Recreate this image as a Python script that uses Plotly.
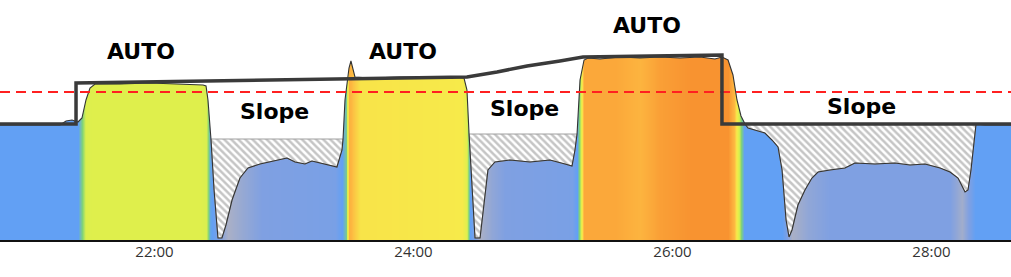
import plotly.graph_objects as go

# ---- data ----
# signal (time in minutes, value)
sig_t = [20.807, 21.270, 21.317, 21.363, 21.409, 21.440, 21.471, 21.502, 21.541, 21.734,
         21.965, 22.197, 22.375, 22.398, 22.413, 22.436, 22.460, 22.490, 22.521, 22.552,
         22.599, 22.660, 22.722, 22.815, 22.931, 23.023, 23.085, 23.162, 23.216, 23.278,
         23.355, 23.409, 23.448, 23.456, 23.471, 23.487, 23.502, 23.517, 23.533, 23.548,
         23.664, 23.896, 24.127, 24.320, 24.390, 24.413, 24.429, 24.452, 24.475, 24.514,
         24.545, 24.575, 24.629, 24.745, 24.900, 25.054, 25.170, 25.224, 25.247, 25.263,
         25.286, 25.317, 25.348, 25.440, 25.595, 25.749, 25.904, 26.058, 26.212, 26.328,
         26.382, 26.429, 26.467, 26.498, 26.529, 26.560, 26.583, 26.637, 26.714, 26.768,
         26.815, 26.846, 26.877, 26.900, 26.923, 26.969, 27.023, 27.077, 27.124, 27.216,
         27.332, 27.409, 27.564, 27.718, 27.834, 27.950, 28.066, 28.143, 28.205, 28.259,
         28.282, 28.305, 28.328, 28.344, 28.413, 28.614]
sig_v = [115, 115, 119, 120, 118, 122, 140, 152, 156, 156,
         157, 156, 155, 154, 140, 101, 50, 2, 2, 15,
         40, 62, 72, 76, 79, 82, 78, 76, 79, 77,
         74, 73, 90, 101, 140, 160, 172, 179, 172, 163,
         162, 163, 163, 163, 162, 150, 106, 50, 2, 2,
         40, 70, 78, 80, 78, 80, 76, 74, 90, 106,
         160, 180, 182, 181, 183, 182, 183, 182, 183, 181,
         183, 180, 165, 140, 124, 116, 112, 110, 107, 100,
         93, 70, 20, 3, 10, 35, 50, 62, 68, 70,
         72, 77, 76, 77, 75, 76, 72, 68, 62, 48,
         50, 70, 100, 116, 115, 115]

# target step line
target_t = [20.807, 21.394, 21.394, 22.429, 23.433, 24.413, 24.645, 24.877, 25.131,
            25.309, 25.826, 26.382, 26.382, 28.614]
target_v = [116, 116, 157, 159, 161, 163, 168, 174, 179, 183, 184, 185, 116, 116]

# limit line
limit_v = 148

# colour intensity along time
int_t = [20.807, 21.409, 21.440, 21.471, 21.517, 22.351, 22.398, 22.429, 22.490, 22.568,
         22.660, 22.830, 23.394, 23.448, 23.479, 23.502, 23.533, 23.587, 24.375, 24.405,
         24.436, 24.514, 24.606, 24.707, 25.224, 25.263, 25.286, 25.317, 25.557, 25.749,
         25.904, 26.135, 26.429, 26.475, 26.506, 26.529, 26.552, 26.846, 26.923, 27.047,
         27.216, 28.143, 28.236, 28.298, 28.336, 28.614]
int_v = [0.2, 0.2, 0.33, 0.48, 0.5, 0.5, 0.47, 0.22, 0.12, 0.0,
         0.04, 0.1, 0.12, 0.2, 0.3, 0.8, 0.72, 0.62, 0.6, 0.52,
         0.2, 0.0, 0.06, 0.1, 0.12, 0.2, 0.4, 0.85, 0.85, 0.78,
         0.9, 0.97, 0.97, 0.75, 0.5, 0.33, 0.2, 0.2, 0.0, 0.06,
         0.1, 0.1, 0.02, 0.12, 0.2, 0.2]

# slope segments: start, end, reference level
slope_start = [22.436, 24.429, 26.560]
slope_end = [23.456, 25.263, 28.344]
slope_level = [101, 106, 116]

# mode labels
label_text = ["AUTO", "Slope", "AUTO", "Slope", "AUTO", "Slope"]
label_t = [21.896, 22.923, 23.919, 24.861, 25.803, 27.463]
label_v = [189, 129, 189, 132, 215, 134]

tick_vals = [22, 24, 26, 28]
tick_text = ["22:00", "24:00", "26:00", "28:00"]

# ---- figure ----
colorscale = [
    [0.0, "#aab0c6"], [0.1, "#7fa0e2"], [0.2, "#62a0f4"], [0.33, "#7fd27a"],
    [0.45, "#d6ee50"], [0.5, "#dfef4c"], [0.6, "#f7ea4a"], [0.75, "#fdb941"],
    [0.85, "#fba83a"], [1.0, "#f78e2e"],
]

fig = go.Figure()
fig.add_trace(go.Heatmap(x=int_t, y=[0, 240], z=[int_v, int_v], colorscale=colorscale,
                         zmin=0, zmax=1, zsmooth="best", showscale=False, hoverinfo="skip"))

# white mask above signal
t0, tN = sig_t[0], sig_t[-1]
mask_x = [t0 - 0.05] + sig_t + [tN + 0.05, tN + 0.05, t0 - 0.05]
mask_y = [sig_v[0]] + sig_v + [sig_v[-1], 400, 400]
fig.add_trace(go.Scatter(x=mask_x, y=mask_y, fill="toself", fillcolor="white",
                         mode="lines", line=dict(width=0), hoverinfo="skip"))

# hatched slope areas
for a, b, lvl in zip(slope_start, slope_end, slope_level):
    seg = [(t, v) for t, v in zip(sig_t, sig_v) if a <= t <= b]
    xs = [p[0] for p in seg] + [b, a]
    ys = [p[1] for p in seg] + [lvl, lvl]
    fig.add_trace(go.Scatter(x=xs, y=ys, fill="toself", fillcolor="white", mode="lines",
                             line=dict(color="#a0a0a0", width=1),
                             fillpattern=dict(shape="\\", fgcolor="#8c8c8c", bgcolor="white",
                                              size=5, solidity=0.5),
                             hoverinfo="skip"))

# signal outline
fig.add_trace(go.Scatter(x=sig_t, y=sig_v, mode="lines", line=dict(color="#333333", width=1.1),
                         hoverinfo="skip"))

# limit line
fig.add_trace(go.Scatter(x=[t0, tN], y=[limit_v, limit_v], mode="lines",
                         line=dict(color="#ff2020", width=1.8, dash="10px,6px"), hoverinfo="skip"))

# target step line
fig.add_trace(go.Scatter(x=target_t, y=target_v, mode="lines",
                         line=dict(color="#3a3a3a", width=3.5), hoverinfo="skip"))

for txt, t, v in zip(label_text, label_t, label_v):
    fig.add_annotation(x=t, y=v, text=txt, showarrow=False, xanchor="center", yanchor="middle",
                       font=dict(family="DejaVu Sans", size=22, color="black", weight="bold"))

fig.update_layout(
    width=1011, height=277, margin=dict(l=0, r=0, t=0, b=37),
    plot_bgcolor="white", paper_bgcolor="white", showlegend=False,
    xaxis=dict(range=[t0, tN], tickvals=tick_vals, ticktext=tick_text, showgrid=False,
               zeroline=False, showline=True, linecolor="#111111", linewidth=2, ticks="",
               ticklabelstandoff=-3,
               tickfont=dict(family="Open Sans", size=15, color="#333333")),
    yaxis=dict(range=[0, 240], visible=False),
)

fig.write_html("out.html")
